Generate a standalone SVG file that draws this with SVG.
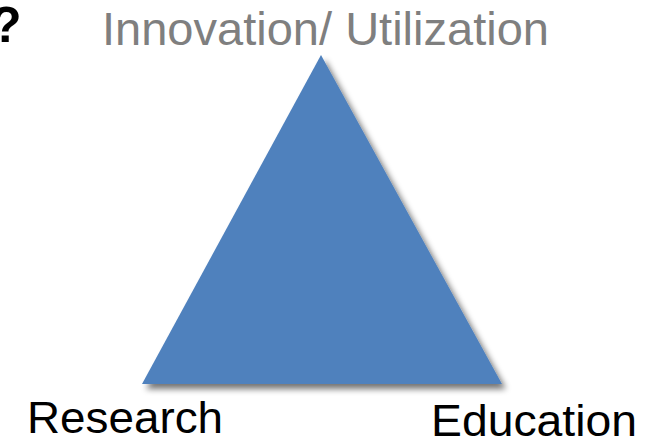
<svg xmlns="http://www.w3.org/2000/svg" width="651" height="442" viewBox="0 0 651 442">
<defs>
<style>
text{font-family:"Liberation Sans",Arial,sans-serif}
.lbl{font-size:45px;fill:#000}
</style>
<filter id="sh" x="-20%" y="-20%" width="140%" height="140%">
<feGaussianBlur in="SourceAlpha" stdDeviation="3"/>
<feOffset dx="4" dy="5" result="b"/>
<feComponentTransfer><feFuncA type="linear" slope="0.55"/></feComponentTransfer>
<feMerge><feMergeNode/><feMergeNode in="SourceGraphic"/></feMerge>
</filter>
</defs>
<rect width="651" height="442" fill="#fff"/>
<text x="-9" y="42" style="font-size:50px;font-weight:bold;fill:#000">?</text>
<g id="triangle">
<polygon points="321,55 502,384 142,384" fill="#4F81BD" filter="url(#sh)"/>
</g>
<g id="top-label"><text x="102" y="45" style="font-size:47px;fill:#7F7F7F" textLength="447" lengthAdjust="spacingAndGlyphs">Innovation/ Utilization</text></g>
<g id="research"><text class="lbl" x="27" y="433" textLength="196" lengthAdjust="spacingAndGlyphs">Research</text></g>
<g id="education"><text class="lbl" x="431" y="436" textLength="206" lengthAdjust="spacingAndGlyphs">Education</text></g>
<g id="connectors"/>
</svg>
